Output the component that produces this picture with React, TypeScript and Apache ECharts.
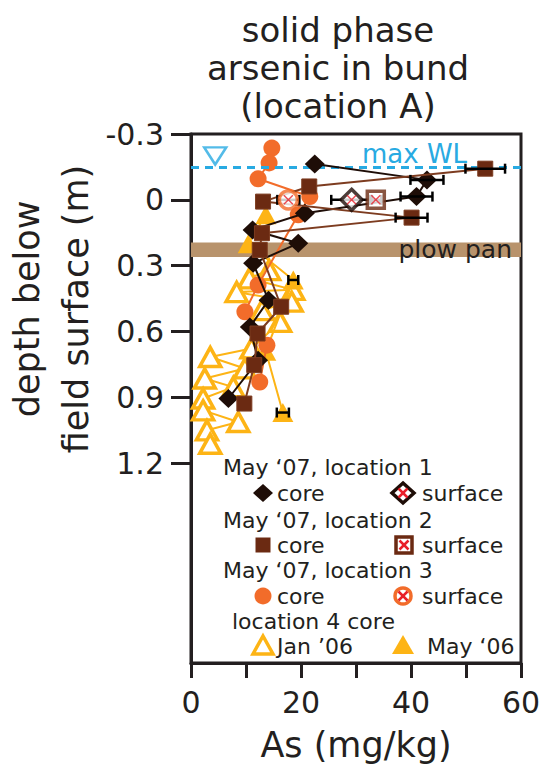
import React, { useEffect, useRef } from "react";
import * as echarts from "echarts";

// ---------- data (As mg/kg, depth m) ----------
const loc1Core: number[][] = [
  [22.5, -0.163], [42.9, -0.091], [41.0, -0.015], [20.7, 0.061], [11.2, 0.137],
  [19.5, 0.198], [11.3, 0.289], [14.1, 0.457], [10.7, 0.579], [12.2, 0.731], [6.8, 0.905],
];
const loc1Surface: number[][] = [[29.2, 0]];
const loc2Core: number[][] = [
  [53.5, -0.142], [21.5, -0.061], [13.1, 0.008], [40.1, 0.081], [12.9, 0.152],
  [12.5, 0.228], [16.4, 0.487], [12.1, 0.609], [11.5, 0.753], [9.7, 0.928],
];
const loc2Surface: number[][] = [[33.6, 0]];
const loc3Core: number[][] = [
  [14.7, -0.236], [14.2, -0.168], [12.2, -0.096], [21.6, -0.015], [19.5, 0.068],
  [12.2, 0.388], [9.8, 0.51], [13.8, 0.662], [12.5, 0.83],
];
const loc3Surface: number[][] = [[17.7, 0]];
const loc4Jan06: number[][] = [
  [14.2, 0.32], [10.6, 0.358], [18.6, 0.41], [8.3, 0.42], [18.3, 0.464], [12.9, 0.502],
  [16.2, 0.556], [11.0, 0.677], [3.5, 0.716], [9.8, 0.768], [2.5, 0.814], [7.7, 0.853],
  [2.2, 0.905], [2.2, 0.959], [8.6, 1.012], [2.9, 1.05], [3.5, 1.111],
];
const loc4Jan06Err: number[] = [0.5, 0.5, 0.6, 0.5, 0.5, 0.5, 0.6, 0.5, 0.5, 0.5, 0.5, 0.5, 0.5, 0.5, 0.5, 0.5, 0.5];
const loc4May06: number[][] = [[13.6, 0.068], [10.4, 0.2], [18.6, 0.365], [13.6, 0.69], [16.7, 0.969]];

// [x, ±error, depth]
const coreErrors: number[][] = [
  [42.9, 3.0, -0.091], [41.0, 2.9, -0.015], [53.5, 3.6, -0.142], [40.1, 2.9, 0.081],
  [16.7, 1.1, 0.969], [18.6, 0.9, 0.365],
];
const surfaceErrors: number[][] = [[29.2, 3.7, 0], [33.6, 1.0, 0], [17.7, 2.0, 0]];

const maxWaterLevel = -0.15;
const wlMarker: number[][] = [[4.4, -0.2]];
const plowPan: number[] = [0.194, 0.26];

const xTicks = [0, 10, 20, 30, 40, 50, 60];
const xLabels = [0, 20, 40, 60];
const yTicks = [-0.3, 0, 0.3, 0.6, 0.9, 1.2];

// ---------- styles ----------
const FONT = "DejaVu Sans";
const INK = "#231f20";
const C1 = "#1e0d07";
const C2 = "#6b2a12";
const C2L = "#7d3c20";
const C3 = "#f26c2a";
const C4 = "#fdb415";
const WL = "#28aae2";
const RED = "#e8202a";
const PAN = "#b8936c";

const XPATH = "path://M1,0 L5,4 L9,0 L10,1 L6,5 L10,9 L9,10 L5,6 L1,10 L0,9 L4,5 L0,1 Z";

function errRender(color: string, cap: number, lw: number) {
  return (params: any, api: any) => {
    const lo = api.coord([api.value(0), api.value(2)]);
    const hi = api.coord([api.value(1), api.value(2)]);
    const st = { stroke: color, lineWidth: lw };
    return {
      type: "group",
      children: [
        { type: "line", shape: { x1: lo[0], y1: lo[1], x2: hi[0], y2: hi[1] }, style: st },
        { type: "line", shape: { x1: lo[0], y1: lo[1] - cap, x2: lo[0], y2: lo[1] + cap }, style: st },
        { type: "line", shape: { x1: hi[0], y1: hi[1] - cap, x2: hi[0], y2: hi[1] + cap }, style: st },
      ],
    };
  };
}

function txt(x: number, y: number, text: string, size = 22, color = INK, align = "left") {
  return {
    type: "text",
    x,
    y,
    style: {
      text,
      fill: color,
      fontSize: size,
      lineHeight: size,
      fontFamily: FONT,
      textAlign: align,
      textVerticalAlign: "middle",
    },
    z: 100,
  };
}

function redX(cx: number, cy: number, r = 4.5) {
  return {
    type: "group",
    z: 101,
    children: [
      { type: "line", shape: { x1: cx - r, y1: cy - r, x2: cx + r, y2: cy + r }, style: { stroke: RED, lineWidth: 2.5 }, z: 101 },
      { type: "line", shape: { x1: cx - r, y1: cy + r, x2: cx + r, y2: cy - r }, style: { stroke: RED, lineWidth: 2.5 }, z: 101 },
    ],
  };
}

export default function App() {
  const ref = useRef<HTMLDivElement>(null);

  useEffect(() => {
    if (!ref.current) return;
    const chart = echarts.init(ref.current, null, { renderer: "svg" });

    const lineSeries = (name: string, data: number[][], symbol: string, size: any, color: string, lineColor: string, extra: any = {}) => ({
      name,
      type: "line",
      data,
      symbol,
      symbolSize: size,
      showSymbol: true,
      showAllSymbol: true,
      lineStyle: { color: lineColor, width: 2 },
      itemStyle: { color, opacity: 1 },
      emphasis: { disabled: true },
      ...extra,
    });

    const option: any = {
      animation: false,
      backgroundColor: "#ffffff",
      textStyle: { fontFamily: FONT },
      grid: { left: 191, top: 134, right: 28, bottom: 104, show: true, borderColor: INK, borderWidth: 3 },
      xAxis: {
        type: "value",
        min: 0,
        max: 60,
        interval: 10,
        axisLine: { show: true, onZero: false, lineStyle: { color: INK, width: 3 } },
        axisTick: { show: true, length: 15, lineStyle: { color: INK, width: 3 }, customValues: xTicks },
        axisLabel: { color: INK, fontSize: 30, fontFamily: FONT, margin: 24, customValues: xLabels },
        splitLine: { show: false },
        name: "As (mg/kg)",
        nameLocation: "middle",
        nameGap: 64,
        nameTextStyle: { color: INK, fontSize: 35, fontFamily: FONT },
      },
      yAxis: {
        type: "value",
        inverse: true,
        min: -0.3,
        max: 2.11,
        axisLine: { show: true, onZero: false, lineStyle: { color: INK, width: 3 } },
        axisTick: { show: true, length: 20, lineStyle: { color: INK, width: 3 }, customValues: yTicks },
        axisLabel: {
          color: INK,
          fontSize: 30,
          fontFamily: FONT,
          margin: 27,
          customValues: yTicks,
          formatter: (v: number) => (Math.abs(v) < 1e-9 ? "0" : v.toFixed(1)),
        },
        splitLine: { show: false },
      },
      series: [
        {
          name: "plow pan & WL",
          type: "scatter",
          data: wlMarker,
          symbol: "triangle",
          symbolRotate: 180,
          symbolSize: [22, 17],
          itemStyle: { color: "rgba(0,0,0,0)", borderColor: WL, borderWidth: 2.5 },
          z: 1,
          markArea: {
            silent: true,
            itemStyle: { color: PAN },
            label: {
              show: true,
              position: "insideRight",
              distance: 9,
              color: INK,
              fontSize: 25,
              fontFamily: FONT,
              formatter: "plow pan",
            },
            data: [[{ yAxis: plowPan[0] }, { yAxis: plowPan[1] }]],
          },
          markLine: {
            silent: true,
            symbol: "none",
            label: { show: false },
            lineStyle: { color: WL, width: 3, type: [8, 6] },
            data: [{ yAxis: maxWaterLevel }],
          },
        },
        lineSeries("location 4 Jan '06", loc4Jan06, "triangle", [21, 19], "#ffffff", C4, {
          itemStyle: { color: "#ffffff", borderColor: C4, borderWidth: 3.5 },
          z: 2,
        }),
        {
          name: "Jan06 err",
          type: "custom",
          renderItem: errRender("#000000", 2, 2),
          data: loc4Jan06.map((p, i) => [p[0] - loc4Jan06Err[i], p[0] + loc4Jan06Err[i], p[1]]),
          encode: { x: [0, 1], y: 2 },
          z: 2,
        },
        lineSeries("location 4 May '06", loc4May06, "triangle", [21, 19], C4, C4, { z: 3 }),
        lineSeries("location 3 core", loc3Core, "circle", 17, C3, C3, { z: 4 }),
        lineSeries("location 1 core", loc1Core, "diamond", [20, 19], C1, C1, { z: 5 }),
        lineSeries("location 2 core", loc2Core, "rect", 15, C2, C2L, {
          itemStyle: { color: C2, borderColor: C2L, borderWidth: 1 },
          z: 6,
        }),
        {
          name: "core errors",
          type: "custom",
          renderItem: errRender("#000000", 5, 2.5),
          data: coreErrors.map(([x, e, d]) => [x - e, x + e, d]),
          encode: { x: [0, 1], y: 2 },
          z: 7,
        },
        {
          name: "surface errors",
          type: "custom",
          renderItem: errRender("#000000", 5, 2.5),
          data: surfaceErrors.map(([x, e, d]) => [x - e, x + e, d]),
          encode: { x: [0, 1], y: 2 },
          z: 7,
        },
        {
          name: "location 3 surface",
          type: "scatter",
          data: loc3Surface,
          symbol: "circle",
          symbolSize: 18,
          itemStyle: { color: "#ffffff", borderColor: C3, borderWidth: 3.5 },
          z: 8,
        },
        {
          name: "location 1 surface",
          type: "scatter",
          data: loc1Surface,
          symbol: "diamond",
          symbolSize: [21, 21],
          itemStyle: { color: "#ffffff", borderColor: C1, borderWidth: 3.5 },
          z: 8,
        },
        {
          name: "location 2 surface",
          type: "scatter",
          data: loc2Surface,
          symbol: "rect",
          symbolSize: 17,
          itemStyle: { color: "#ffffff", borderColor: C2, borderWidth: 3.5 },
          z: 8,
        },
        {
          name: "surface x",
          type: "scatter",
          data: [...loc1Surface, ...loc2Surface, ...loc3Surface],
          symbol: XPATH,
          symbolSize: 10,
          itemStyle: { color: RED },
          z: 9,
        },
      ],
      graphic: [
        // title
        {
          type: "text",
          x: 338,
          y: 11,
          style: {
            text: "solid phase\narsenic in bund\n(location A)",
            fill: INK,
            fontSize: 34,
            fontFamily: FONT,
            lineHeight: 38,
            textAlign: "center",
            textVerticalAlign: "top",
          },
        },
        // y axis title
        {
          type: "text",
          x: 51,
          y: 309,
          rotation: Math.PI / 2,
          style: {
            text: "depth below\nfield surface (m)",
            fill: INK,
            fontSize: 35,
            fontFamily: FONT,
            lineHeight: 49,
            textAlign: "center",
            textVerticalAlign: "middle",
          },
        },
        txt(362, 154, "max WL", 26, WL),
        // legend
        txt(223, 467, "May \u201807, location 1"),
        { type: "polygon", shape: { points: [[263, 484], [273, 493], [263, 502], [253, 493]] }, style: { fill: C1 }, z: 100 },
        txt(277, 493, "core"),
        { type: "polygon", shape: { points: [[403, 483], [414, 493], [403, 503], [392, 493]] }, style: { fill: "#fff", stroke: C1, lineWidth: 3.5 }, z: 100 },
        redX(403, 493),
        txt(422, 493, "surface"),
        txt(223, 520, "May \u201807, location 2"),
        { type: "rect", shape: { x: 255.5, y: 537.5, width: 15, height: 15 }, style: { fill: C2 }, z: 100 },
        txt(277, 545, "core"),
        { type: "rect", shape: { x: 396, y: 537, width: 16, height: 16 }, style: { fill: "#fff", stroke: C2, lineWidth: 3.5 }, z: 100 },
        redX(404, 545),
        txt(422, 545, "surface"),
        txt(223, 570, "May \u201807, location 3"),
        { type: "circle", shape: { cx: 263, cy: 596, r: 8.5 }, style: { fill: C3 }, z: 100 },
        txt(277, 596, "core"),
        { type: "circle", shape: { cx: 403, cy: 596, r: 8 }, style: { fill: "#fff", stroke: C3, lineWidth: 3.5 }, z: 100 },
        redX(403, 596),
        txt(422, 596, "surface"),
        txt(232, 621, "location 4 core"),
        { type: "polygon", shape: { points: [[263, 636], [273, 654], [253, 654]] }, style: { fill: "#fff", stroke: C4, lineWidth: 3.5 }, z: 100 },
        txt(277, 646, "Jan \u201906"),
        { type: "polygon", shape: { points: [[403, 635], [414, 654], [392, 654]] }, style: { fill: C4 }, z: 100 },
        txt(427, 646, "May \u201806"),
      ],
    };

    chart.setOption(option);
    return () => chart.dispose();
  }, []);

  return (
    <div
      ref={ref}
      style={{ position: "absolute", left: 0, top: 0, width: 549, height: 767, background: "#fff" }}
    />
  );
}
